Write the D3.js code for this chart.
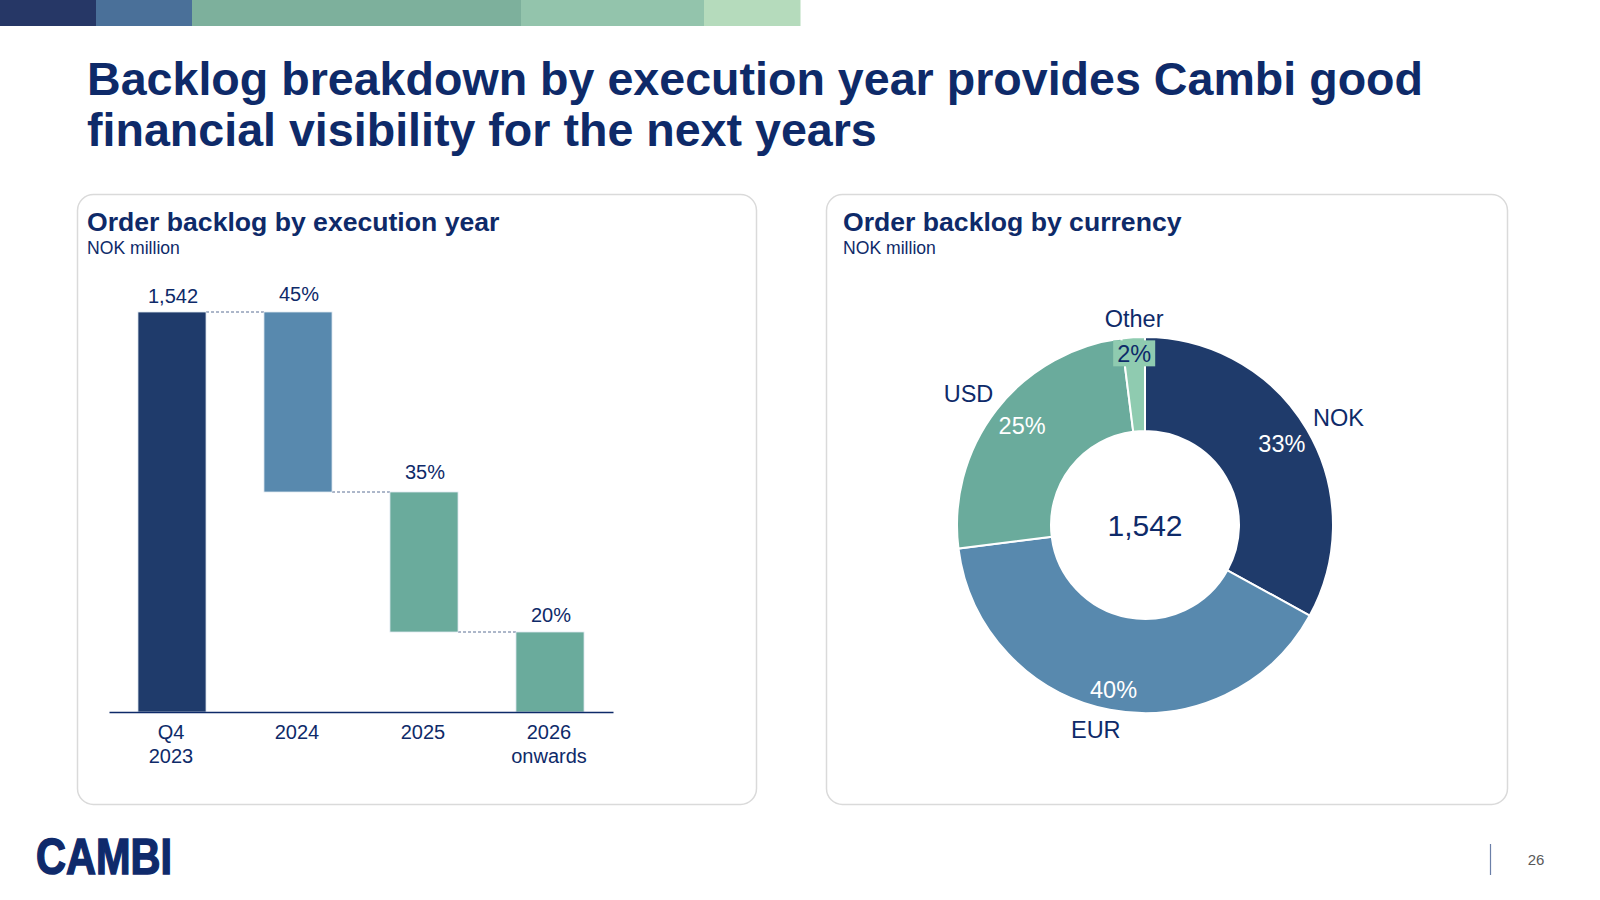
<!DOCTYPE html>
<html><head><meta charset="utf-8">
<script src="https://cdn.jsdelivr.net/npm/d3@7"></script>
<style>
html,body{margin:0;padding:0;background:#fff;}
svg{display:block;font-family:"Liberation Sans",Arial,sans-serif;}
</style></head>
<body>
<svg id="c" width="1600" height="900"></svg>
<script>
// ---- data ----
const titleLines = ["Backlog breakdown by execution year provides Cambi good", "financial visibility for the next years"];
const leftTitle = "Order backlog by execution year";
const rightTitle = "Order backlog by currency";
const unitLabel = "NOK million";
const totalBacklog = 1542;
const totalLabel = "1,542";
const yearCategories = ["Q4 2023", "2024", "2025", "2026 onwards"];
const yearTickLines = [["Q4", "2023"], ["2024"], ["2025"], ["2026", "onwards"]];
const yearShares = [45, 35, 20]; // % of backlog executed in 2024, 2025, 2026+
const currencyNames = ["NOK", "EUR", "USD", "Other"];
const currencyShares = [33, 40, 25, 2];
const topStripeShares = [96, 96, 329, 183, 96];
const pageNumber = "26";

const navy = "#0e2a69";
const cNavy = "#1f3b6b", cBlue = "#5889ae", cGreen = "#6aab9c", cLight = "#8fcbb0";

const svg = d3.select("#c");

// top stripe
const stripeColors = ["#263766", "#4a7099", "#7db09c", "#93c4ac", "#b5dbbc"];
const sx = d3.scaleLinear().domain([0, d3.sum(topStripeShares)]).range([0, 800]);
let acc = 0;
topStripeShares.forEach((v, i) => {
  svg.append("rect").attr("x", sx(acc)).attr("y", 0).attr("width", sx(v) - sx(0) + 0.5).attr("height", 26).attr("fill", stripeColors[i]);
  acc += v;
});

// title
titleLines.forEach((t, i) => {
  svg.append("text").attr("x", 87).attr("y", 95 + i * 51).attr("font-size", 46.6).attr("font-weight", "bold")
    .attr("fill", navy).text(t);
});

// panels
[[77, 756], [826, 1507]].forEach(([x0, x1]) => {
  svg.append("rect").attr("x", x0 + 0.5).attr("y", 194.5).attr("width", x1 - x0).attr("height", 610)
    .attr("rx", 16).attr("fill", "#fff").attr("stroke", "#dadada").attr("stroke-width", 1.5);
});
[[87, leftTitle], [843, rightTitle]].forEach(([x, t]) => {
  svg.append("text").attr("x", x).attr("y", 231).attr("font-size", 26.6).attr("font-weight", "bold").attr("fill", navy).text(t);
  svg.append("text").attr("x", x).attr("y", 254).attr("font-size", 17.6).attr("fill", navy).text(unitLabel);
});

// ---- waterfall ----
const x = d3.scaleBand().domain(yearCategories).range([109, 613]).paddingInner(0.46).paddingOuter(0.23);
const y = d3.scaleLinear().domain([0, totalBacklog]).range([712, 312]);
const segs = [];
segs.push({cat: yearCategories[0], y0: 0, y1: totalBacklog, color: cNavy, label: totalLabel});
let level = totalBacklog;
yearShares.forEach((p, i) => {
  const v = totalBacklog * p / 100;
  const bottom = i === yearShares.length - 1 ? 0 : level - v;
  segs.push({cat: yearCategories[i + 1], y0: bottom, y1: level, color: i === 0 ? cBlue : cGreen, label: p + "%"});
  level = bottom;
});
const g = svg.append("g");
// connectors
segs.forEach((s, i) => {
  if (i === segs.length - 1) return;
  const lvl = i === 0 ? s.y1 : s.y0;
  g.append("line").attr("x1", x(s.cat) + x.bandwidth()).attr("x2", x(segs[i + 1].cat))
    .attr("y1", y(lvl)).attr("y2", y(lvl)).attr("stroke", "#5a6f94").attr("stroke-width", 1).attr("stroke-dasharray", "3,2");
});
g.selectAll("rect.bar").data(segs).join("rect").attr("class", "bar")
  .attr("x", d => x(d.cat)).attr("width", x.bandwidth())
  .attr("y", d => y(d.y1)).attr("height", d => y(d.y0) - y(d.y1))
  .attr("fill", d => d.color).attr("stroke", "#dfe8f0").attr("stroke-width", 0.8);
const labelGap = [9, 11, 13, 10];
g.selectAll("text.val").data(segs).join("text").attr("class", "val")
  .attr("x", d => x(d.cat) + x.bandwidth() / 2 + 1).attr("y", (d, i) => y(d.y1) - labelGap[i])
  .attr("text-anchor", "middle").attr("font-size", 20).attr("fill", navy).text(d => d.label);
// axis
const ax = g.append("g").attr("transform", "translate(0,712)").call(d3.axisBottom(x).tickSize(0).tickFormat(""));
ax.select(".domain").attr("stroke", navy).attr("stroke-width", 1.5);
yearCategories.forEach((c, i) => {
  yearTickLines[i].forEach((line, j) => {
    g.append("text").attr("x", x(c) + x.bandwidth() / 2 - 1).attr("y", 739 + j * 24).attr("text-anchor", "middle")
      .attr("font-size", 20).attr("fill", navy).text(line);
  });
});

// ---- donut ----
const cx = 1145, cy = 525;
const colors = [cNavy, cBlue, cGreen, cLight];
const pie = d3.pie().sort(null).value(d => d.v);
const arcs = pie(currencyNames.map((n, i) => ({n, v: currencyShares[i], c: colors[i]})));
const arc = d3.arc().innerRadius(94).outerRadius(188);
const dg = svg.append("g").attr("transform", `translate(${cx},${cy})`);
dg.selectAll("path").data(arcs).join("path").attr("d", arc).attr("fill", d => d.data.c)
  .attr("stroke", "#fff").attr("stroke-width", 2);
const mid = d => (d.startAngle + d.endAngle) / 2;
const pos = (a, r) => [Math.sin(a) * r, -Math.cos(a) * r];
const pctRadius = {NOK: 159, EUR: 168, USD: 158, Other: 172};
const nameRadius = {NOK: 221, EUR: 211, USD: 220, Other: 207};
const nameShift = {NOK: 0.03, EUR: 0.047, USD: -0.02, Other: 0.01};
const pctShift = {NOK: 0, EUR: 0, USD: 0.02, Other: 0};
arcs.forEach(d => {
  const a = mid(d);
  const n = d.data.n;
  const isOther = n === "Other";
  const [px, py] = pos(a + pctShift[n], pctRadius[n]);
  if (isOther) {
    dg.append("rect").attr("x", px - 21).attr("y", py - 13).attr("width", 42).attr("height", 26).attr("fill", cLight);
  }
  dg.append("text").attr("x", px).attr("y", py).attr("dy", "0.35em").attr("text-anchor", "middle")
    .attr("font-size", 23.5).attr("fill", isOther ? navy : "#fff").text(d.data.v + "%");
  const [lx, ly] = pos(a + nameShift[n], nameRadius[n]);
  dg.append("text").attr("x", lx).attr("y", ly).attr("dy", "0.35em").attr("text-anchor", "middle")
    .attr("font-size", 23.5).attr("fill", navy).text(n);
});
dg.append("text").attr("x", 0).attr("y", 0).attr("dy", "0.35em").attr("text-anchor", "middle")
  .attr("font-size", 30).attr("fill", navy).text(totalLabel);

// ---- footer ----
svg.append("text").attr("x", 36).attr("y", 874).attr("font-size", 50).attr("font-weight", "bold")
  .attr("fill", "#0f2a6b").attr("stroke", "#0f2a6b").attr("stroke-width", 1.5)
  .attr("textLength", 136).attr("lengthAdjust", "spacingAndGlyphs").text("CAMBI");
svg.append("line").attr("x1", 1490.5).attr("x2", 1490.5).attr("y1", 844).attr("y2", 875).attr("stroke", "#6b7fa8").attr("stroke-width", 1.2);
svg.append("text").attr("x", 1536).attr("y", 865).attr("text-anchor", "middle").attr("font-size", 15).attr("fill", "#595959").text(pageNumber);
</script>
</body></html>
